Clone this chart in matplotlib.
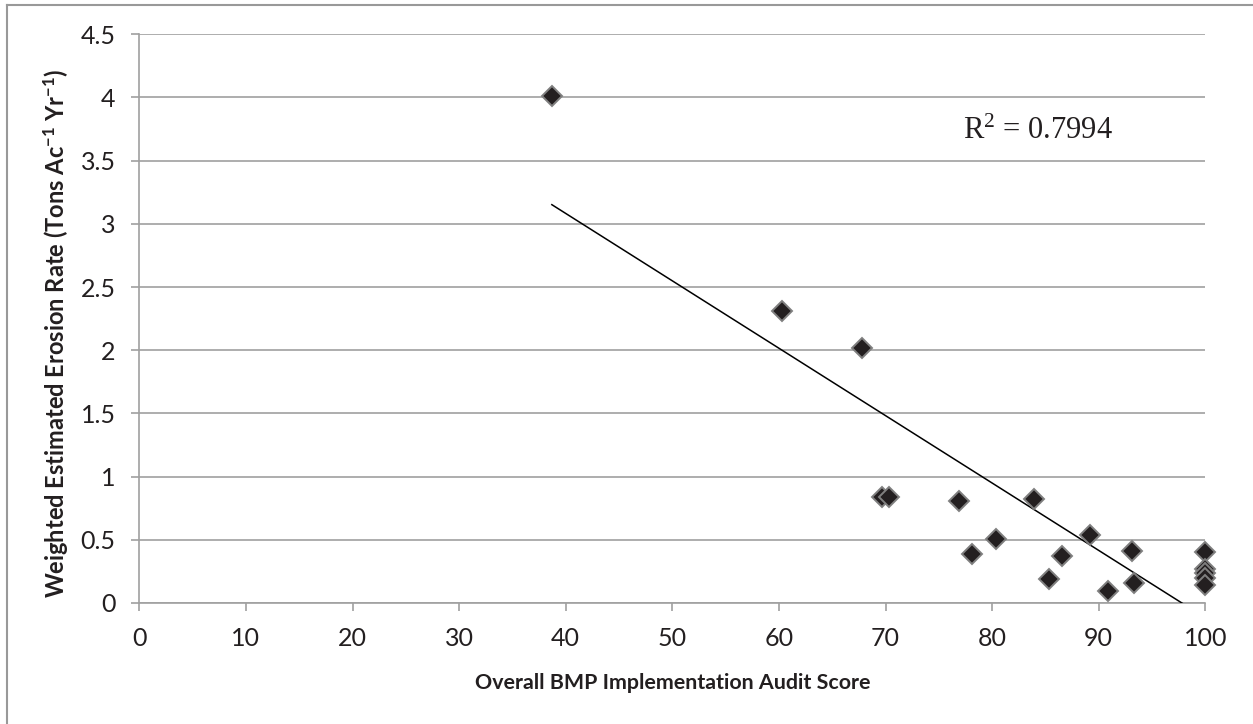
import numpy as np
import matplotlib
matplotlib.use('Agg')
import matplotlib.pyplot as plt
from matplotlib.lines import Line2D

# audit score vs. weighted erosion rate, one point per site
audit_score = [38.7, 60.3, 67.8, 69.7, 70.3, 76.9, 78.1, 80.4, 83.9, 85.3,
               86.6, 89.2, 90.9, 93.1, 93.3, 100, 100, 100, 100, 100]
erosion_rate = [4.01, 2.31, 2.015, 0.84, 0.84, 0.81, 0.39, 0.505, 0.82, 0.19,
                0.37, 0.54, 0.095, 0.41, 0.155, 0.40, 0.27, 0.24, 0.20, 0.14]
r_squared = 0.7994

x_ticks = np.arange(0, 101, 10)
y_ticks = np.arange(0, 4.51, 0.5)
y_tick_labels = ['0', '0.5', '1', '1.5', '2', '2.5', '3', '3.5', '4', '4.5']

plt.rcParams['font.family'] = ['Lato', 'DejaVu Sans']
plt.rcParams['mathtext.default'] = 'regular'

grid_c = '#a0a0a0'
text_c = '#231f20'

fig = plt.figure(figsize=(12.53, 7.24), dpi=100)
ax = fig.add_axes([139.3 / 1253, 1 - 603 / 724, (1205.3 - 139.3) / 1253, (603 - 34.3) / 724])

# linear trendline (least squares), clipped at the x axis
slope, icept = np.polyfit(audit_score, erosion_rate, 1)
xs = np.array([min(audit_score), max(audit_score)])
ax.plot(xs, slope * xs + icept, color='black', lw=1.1, zorder=3)

ax.plot(audit_score, erosion_rate, linestyle='none', marker='D', ms=10.5,
        mfc='#231f20', mec='#7f7f7f', mew=1.4, zorder=4, clip_on=False)

ax.set_xlim(0, 100)
ax.set_ylim(0, 4.5)
ax.set_xticks(x_ticks)
ax.set_yticks(y_ticks)
ax.set_yticklabels(y_tick_labels)
ax.yaxis.grid(True, color=grid_c, lw=1.2)
ax.set_axisbelow(True)

for side in ['top', 'right']:
    ax.spines[side].set_visible(False)
for side in ['left', 'bottom']:
    ax.spines[side].set_color(grid_c)
    ax.spines[side].set_linewidth(1.2)

ax.tick_params(axis='both', direction='out', length=6, width=1.2, color=grid_c,
               labelsize=18, labelcolor=text_c)
ax.tick_params(axis='x', pad=11)
ax.tick_params(axis='y', pad=11)

ax.set_xlabel('Overall BMP Implementation Audit Score', fontsize=15.4,
              fontweight='bold', color=text_c, labelpad=17)
ax.set_ylabel('Weighted Estimated Erosion Rate (Tons Ac$^{-1}$ Yr$^{-1}$)',
              fontsize=17, fontweight='bold', color=text_c)
ax.yaxis.set_label_coords(-0.064, 0.475)

ax.text(77.3, 3.67, 'R$^{2}$ = %.4f' % r_squared, fontsize=22,
        family='Liberation Serif', color=text_c, va='baseline', ha='left')

# chart frame (only the top and left edges fall inside the image)
fig.add_artist(Line2D([7 / 1253, 7 / 1253], [0, 1 - 5 / 724], transform=fig.transFigure,
                      color='#999999', lw=1.5))
fig.add_artist(Line2D([7 / 1253, 1], [1 - 5 / 724, 1 - 5 / 724], transform=fig.transFigure,
                      color='#999999', lw=1.5))

fig.savefig('out.png', dpi=100)
